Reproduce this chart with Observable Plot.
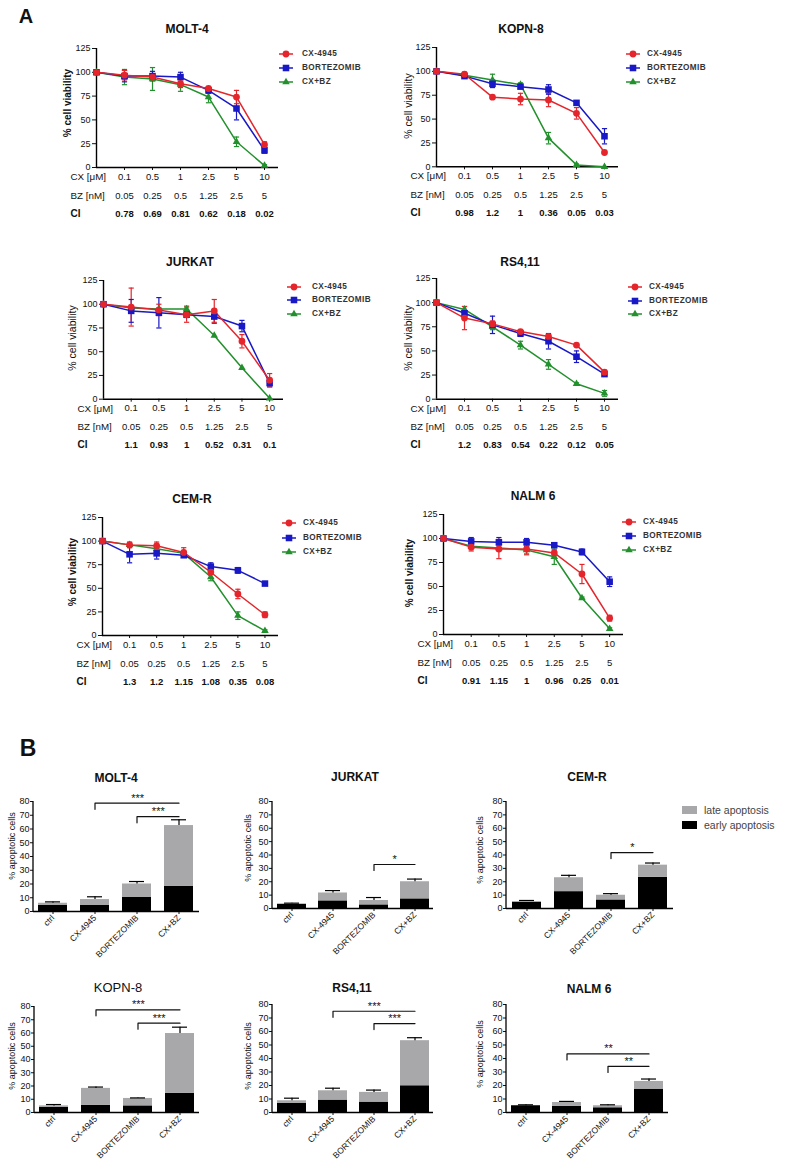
<!DOCTYPE html>
<html><head><meta charset="utf-8">
<script src="https://cdn.jsdelivr.net/npm/d3@7"></script>
<script src="https://cdn.jsdelivr.net/npm/@observablehq/plot@0.6"></script>
<style>
body{margin:0;background:#fff;font-family:"Liberation Sans",Arial,Helvetica,sans-serif;}
#fig{position:relative;width:790px;height:1162px;overflow:hidden;background:#fff;}
.t{position:absolute;transform:translate(-50%,-50%);white-space:nowrap;line-height:1;color:#111;}
.lg{position:absolute;white-space:nowrap;line-height:1;transform:translateY(-50%);}
</style></head><body><div id="fig"></div>
<script>
// ---------------- DATA ----------------
const concPositions = [0, 1, 2, 3, 4, 5, 6];           // control + six dose steps
const cxDoses = ["0.1", "0.5", "1", "2.5", "5", "10"];   // CX [μM]
const bzDoses = ["0.05", "0.25", "0.5", "1.25", "2.5", "5"]; // BZ [nM]
const treatments = ["CX-4945", "BORTEZOMIB", "CX+BZ"];
const viabilityTicks = [0, 25, 50, 75, 100, 125];

const MOLT4_CX = [100, 97, 95, 88, 83, 74, 24];
const MOLT4_CX_SD = [0, 5, 2, 4, 2, 7, 3];
const MOLT4_BZ = [100, 96, 96, 95, 81, 62, 18];
const MOLT4_BZ_SD = [0, 6, 5, 5, 3, 12, 3];
const MOLT4_CB = [100, 95, 93, 87, 74, 27, 2];
const MOLT4_CB_SD = [0, 8, 12, 7, 6, 5, 1];
const MOLT4_CI = ["0.78", "0.69", "0.81", "0.62", "0.18", "0.02"];

const KOPN8_CX = [100, 97, 73, 71, 70, 56, 15];
const KOPN8_CX_SD = [0, 2, 1, 6, 7, 6, 1];
const KOPN8_BZ = [100, 95, 87, 84, 81, 67, 32];
const KOPN8_BZ_SD = [0, 2, 4, 2, 5, 2, 8];
const KOPN8_CB = [100, 96, 91, 86, 30, 2, 0];
const KOPN8_CB_SD = [0, 1, 6, 2, 6, 1, 0];
const KOPN8_CI = ["0.98", "1.2", "1", "0.36", "0.05", "0.03"];

const JURKAT_CX = [100, 97, 94, 89, 93, 61, 20];
const JURKAT_CX_SD = [0, 20, 6, 8, 12, 7, 7];
const JURKAT_BZ = [100, 93, 91, 89, 87, 77, 17];
const JURKAT_BZ_SD = [0, 12, 16, 3, 7, 6, 4];
const JURKAT_CB = [100, 96, 95, 95, 67, 33, 1];
const JURKAT_CB_SD = [0, 0, 0, 3, 0, 0, 0];
const JURKAT_CI = ["1.1", "0.93", "1", "0.52", "0.31", "0.1"];

const RS411_CX = [100, 84, 78, 70, 65, 56, 28];
const RS411_CX_SD = [0, 12, 3, 2, 2, 1, 2];
const RS411_BZ = [100, 89, 77, 68, 60, 44, 26];
const RS411_BZ_SD = [0, 3, 9, 3, 8, 6, 2];
const RS411_CB = [100, 93, 75, 56, 36, 16, 6];
const RS411_CB_SD = [0, 3, 3, 4, 5, 1, 3];
const RS411_CI = ["1.2", "0.83", "0.54", "0.22", "0.12", "0.05"];

const CEMR_CX = [100, 96, 95, 88, 67, 44, 22];
const CEMR_CX_SD = [0, 3, 4, 5, 6, 5, 3];
const CEMR_BZ = [100, 86, 87, 85, 73, 69, 55];
const CEMR_BZ_SD = [0, 9, 6, 2, 4, 3, 1];
const CEMR_CB = [100, 96, 92, 87, 62, 21, 5];
const CEMR_CB_SD = [0, 2, 2, 2, 4, 4, 1];
const CEMR_CI = ["1.3", "1.2", "1.15", "1.08", "0.35", "0.08"];

const NALM6_CX = [100, 91, 89, 89, 85, 63, 17];
const NALM6_CX_SD = [0, 4, 10, 6, 3, 10, 3];
const NALM6_BZ = [100, 97, 96, 96, 93, 86, 55];
const NALM6_BZ_SD = [0, 4, 5, 4, 2, 3, 5];
const NALM6_CB = [100, 92, 90, 88, 81, 38, 6];
const NALM6_CB_SD = [0, 2, 3, 4, 8, 1, 1];
const NALM6_CI = ["0.91", "1.15", "1", "0.96", "0.25", "0.01"];

// Panel B: apoptosis
const groups = ["ctrl", "CX-4945", "BORTEZOMIB", "CX+BZ"];
const stages = ["early apoptosis", "late apoptosis"];
const apoptosisTicks = [0, 10, 20, 30, 40, 50, 60, 70, 80];

const B_MOLT4_EARLY = [4.6, 4.6, 10.2, 18.4];
const B_MOLT4_TOTAL = [6, 8.7, 20, 62.5];
const B_MOLT4_SD = [1, 2, 1.8, 4.2];
const B_MOLT4_SIG = [{from: "CX-4945", to: "CX+BZ", level: 78.8, label: "***"}, {from: "BORTEZOMIB", to: "CX+BZ", level: 69, label: "***"}];

const B_JURKAT_EARLY = [3, 5.7, 2.7, 7.2];
const B_JURKAT_TOTAL = [3.5, 11.6, 6, 20];
const B_JURKAT_SD = [0.5, 1.8, 2.2, 2];
const B_JURKAT_SIG = [{from: "BORTEZOMIB", to: "CX+BZ", level: 32.9, label: "*"}];

const B_CEMR_EARLY = [4.5, 12.6, 6.4, 23.3];
const B_CEMR_TOTAL = [5.2, 23, 9.9, 32.4];
const B_CEMR_SD = [0.8, 1.8, 1.2, 1.6];
const B_CEMR_SIG = [{from: "BORTEZOMIB", to: "CX+BZ", level: 41.8, label: "*"}];

const B_KOPN8_EARLY = [3.8, 5.5, 5, 14.4];
const B_KOPN8_TOTAL = [5, 18.2, 10.6, 59.6];
const B_KOPN8_SD = [1, 1, 0.4, 4.8];
const B_KOPN8_SIG = [{from: "CX-4945", to: "CX+BZ", level: 77.5, label: "***"}, {from: "BORTEZOMIB", to: "CX+BZ", level: 67.4, label: "***"}];

const B_RS411_EARLY = [6.7, 9.2, 7.7, 19.8];
const B_RS411_TOTAL = [8.7, 16.1, 14.9, 53.2];
const B_RS411_SD = [1.9, 1.9, 1.7, 2.2];
const B_RS411_SIG = [{from: "CX-4945", to: "CX+BZ", level: 75, label: "***"}, {from: "BORTEZOMIB", to: "CX+BZ", level: 65.9, label: "***"}];

const B_NALM6_EARLY = [5, 4.5, 3.5, 17.3];
const B_NALM6_TOTAL = [5, 7.4, 5, 23];
const B_NALM6_SD = [0.7, 0.8, 0.7, 1.8];
const B_NALM6_SIG = [{from: "CX-4945", to: "CX+BZ", level: 43.4, label: "**"}, {from: "BORTEZOMIB", to: "CX+BZ", level: 34.2, label: "**"}];

// ---------------- STYLE / LAYOUT ----------------
const FONT = "'Liberation Sans', Arial, Helvetica, sans-serif";
const SERIES_COLORS = ["#e4262c", "#1818c6", "#22902c"];
const SERIES_SYMBOLS = ["circle", "square", "triangle"];
const SERIES_R = {"CX-4945": 3.4, "BORTEZOMIB": 3.7, "CX+BZ": 2.8};
const STAGE_COLORS = ["#000000", "#a8a8aa"];

const fig = document.getElementById("fig");
function put(el, left, top) { el.style.position = "absolute"; el.style.left = left + "px"; el.style.top = top + "px"; fig.appendChild(el); }
function label(text, x, y, css) { const d = document.createElement("div"); d.className = "t"; d.textContent = text; d.style.left = x + "px"; d.style.top = y + "px"; Object.assign(d.style, css || {}); fig.appendChild(d); }
function vlabel(text, x, y, css) { label(text, x, y, Object.assign({transform: "translate(-50%,-50%) rotate(-90deg)"}, css || {})); }

const capSymbol = {draw(ctx, size) { const r = Math.sqrt(size / Math.PI); ctx.moveTo(-r, 0); ctx.lineTo(r, 0); }};

function linePanel(p) {
  const ML = 100, MT = 10, MR = 6, MB = 60;
  const left = p.axisX - ML, top = p.y125 - MT;
  const width = p.axisEnd + MR - left, height = p.y0 + MB - top;
  const rows = [];
  [["CX+BZ", p.cb, p.cbSd], ["BORTEZOMIB", p.bz, p.bzSd], ["CX-4945", p.cx, p.cxSd]].forEach(([t, m, s]) =>
    m.forEach((v, i) => rows.push({treatment: t, pos: concPositions[i], mean: v, sd: s[i]})));
  const errs = rows.filter(d => d.sd > 0);
  const table = cxDoses.map((c, i) => ({pos: concPositions[i + 1], cx: c, bz: bzDoses[i], ci: p.ci[i]}));
  const dotMarks = ["CX+BZ", "BORTEZOMIB", "CX-4945"].map(t =>
    Plot.dot(rows.filter(d => d.treatment === t), {x: "pos", y: "mean", symbol: "treatment", fill: "treatment", r: SERIES_R[t]}));
  const svg = Plot.plot({
    width, height, marginLeft: ML, marginTop: MT, marginRight: MR, marginBottom: MB,
    style: {fontFamily: FONT, fontSize: "9px", color: "#111", background: "transparent", overflow: "visible"},
    x: {domain: [0, 6.5], axis: null},
    y: {domain: [0, 125], axis: null},
    color: {domain: treatments, range: SERIES_COLORS},
    symbol: {domain: treatments, range: SERIES_SYMBOLS},
    marks: [
      Plot.axisY({ticks: viabilityTicks, tickSize: 4, tickPadding: 2, fontSize: 9, label: null}),
      Plot.axisX({ticks: concPositions.slice(1), tickSize: 3, tickFormat: () => "", label: null}),
      Plot.ruleX([0], {stroke: "#000", strokeWidth: 1.4}),
      Plot.ruleY([0], {stroke: "#000", strokeWidth: 1.4}),
      Plot.ruleX(errs, {x: "pos", y1: d => d.mean - d.sd, y2: d => d.mean + d.sd, stroke: "treatment", strokeWidth: 1.2}),
      Plot.dot(errs, {x: "pos", y: d => d.mean + d.sd, symbol: capSymbol, r: 2.6, stroke: "treatment", strokeWidth: 1.2, fill: "none"}),
      Plot.dot(errs, {x: "pos", y: d => d.mean - d.sd, symbol: capSymbol, r: 2.6, stroke: "treatment", strokeWidth: 1.2, fill: "none"}),
      Plot.line(rows, {x: "pos", y: "mean", z: "treatment", stroke: "treatment", strokeWidth: 1.5}),
      ...dotMarks,
      Plot.text(table, {x: "pos", text: "cx", frameAnchor: "bottom", dy: 12, fontSize: 9.5}),
      Plot.text(table, {x: "pos", text: "bz", frameAnchor: "bottom", dy: 31, fontSize: 9.5}),
      Plot.text(table, {x: "pos", text: "ci", frameAnchor: "bottom", dy: 49, fontSize: 9.5, fontWeight: "bold"}),
      Plot.text(["CX [μM]"], {text: d => d, frameAnchor: "bottom-left", dx: -26, dy: 12.5, textAnchor: "start", fontSize: 9.8}),
      Plot.text(["BZ [nM]"], {text: d => d, frameAnchor: "bottom-left", dx: -26, dy: 31, textAnchor: "start", fontSize: 9.8}),
      Plot.text(["CI"], {text: d => d, frameAnchor: "bottom-left", dx: -26, dy: 49, textAnchor: "start", fontSize: 10, fontWeight: "bold"})
    ]
  });
  put(svg, left, top);
  label(p.name, p.titleX, p.titleY, {fontWeight: "bold", fontSize: "12px"});
  vlabel("% cell viability", p.yLabX, p.yLabY, {fontSize: p.yBold ? "10px" : "10.5px", fontWeight: p.yBold ? "bold" : "normal"});
  // legend
  treatments.forEach((t, i) => {
    const c = SERIES_COLORS[i];
    const sym = {circle: d3.symbolCircle, square: d3.symbolSquare, triangle: d3.symbolTriangle}[SERIES_SYMBOLS[i]];
    const r = SERIES_R[t];
    const path = d3.symbol(sym, Math.PI * r * r)();
    const s = document.createElementNS("http://www.w3.org/2000/svg", "svg");
    s.setAttribute("width", 18); s.setAttribute("height", 12);
    s.innerHTML = `<line x1="2" x2="16" y1="6" y2="6" stroke="${c}" stroke-width="1.5"/><path transform="translate(9,6)" d="${path}" fill="${c}"/>`;
    put(s, p.legMarkX - 9, p.legY[i] - 6);
    const d = document.createElement("div");
    d.className = "lg"; d.textContent = t;
    Object.assign(d.style, {left: p.legTextX + "px", top: p.legY[i] + "px", fontSize: "8.2px", fontWeight: "bold", letterSpacing: "0.4px", color: "#333"});
    fig.appendChild(d);
  });
}

function barPanel(p) {
  const ML = 40, MT = 14, MR = 6, MB = 58;
  const left = p.axisX - ML, top = p.y80 - MT;
  const width = p.axisEnd + MR - left, height = p.y0 + MB - top;
  const rows = [];
  groups.forEach((g, i) => {
    rows.push({group: g, stage: stages[0], value: p.early[i]});
    rows.push({group: g, stage: stages[1], value: p.total[i] - p.early[i]});
  });
  const errs = groups.map((g, i) => ({group: g, top: p.total[i], hi: p.total[i] + p.sd[i]}));
  const frameW = width - ML - MR;
  const step = frameW / (groups.length - 0.3 + 0.2);
  const drop = 4.5;
  const bracketPts = p.sig.flatMap((b, k) => [
    {id: k, group: b.from, y: b.level - drop}, {id: k, group: b.from, y: b.level}, {id: k, group: b.to, y: b.level}]);
  const yAxisLine = (index, scales, values, dims) =>
    d3.create("svg:line").attr("x1", dims.marginLeft).attr("x2", dims.marginLeft)
      .attr("y1", dims.marginTop).attr("y2", dims.height - dims.marginBottom)
      .attr("stroke", "#000").attr("stroke-width", 1.3).node();
  const svg = Plot.plot({
    width, height, marginLeft: ML, marginTop: MT, marginRight: MR, marginBottom: MB,
    style: {fontFamily: FONT, fontSize: "9px", color: "#111", background: "transparent", overflow: "visible"},
    x: {type: "band", domain: groups, paddingInner: 0.3, paddingOuter: 0.1, axis: null},
    y: {domain: [0, 80], axis: null},
    color: {domain: stages, range: STAGE_COLORS},
    marks: [
      Plot.barY(rows, {x: "group", y: "value", fill: "stage"}),
      Plot.ruleX(errs, {x: "group", y1: "top", y2: "hi", stroke: "#000", strokeWidth: 1.2}),
      Plot.tickY(errs, {x: "group", y: "hi", stroke: "#000", strokeWidth: 1.2, insetLeft: 7, insetRight: 7}),
      Plot.axisY({ticks: apoptosisTicks, tickSize: 3, tickPadding: 1, fontSize: 9, label: null}),
      Plot.axisX({tickRotate: -45, tickSize: 3, tickPadding: 2, fontSize: 8.5, label: null}),
      Plot.ruleY([0], {stroke: "#000", strokeWidth: 1.3}),
      yAxisLine,
      Plot.line(bracketPts, {x: "group", y: "y", z: "id", stroke: "#111", strokeWidth: 1.2}),
      ...p.sig.map(b => Plot.text([b], {x: "from", y: "level", text: "label", fontSize: 11, dy: -5,
        dx: (groups.indexOf(b.to) - groups.indexOf(b.from)) * step / 2}))
    ]
  });
  put(svg, left, top);
  label(p.name, p.titleX, p.titleY, {fontWeight: p.titleBold === false ? "normal" : "bold", fontSize: p.titleBold === false ? "13px" : "12px"});
  vlabel("% apoptotic cells", p.yLabX, p.yLabY, {fontSize: "9px"});
}

// ---------------- BUILD ----------------
label("A", 26, 16, {fontWeight: "bold", fontSize: "20px"});
label("B", 28, 748, {fontWeight: "bold", fontSize: "23px"});

linePanel({name: "MOLT-4", titleX: 187, titleY: 29, cx: MOLT4_CX, cxSd: MOLT4_CX_SD, bz: MOLT4_BZ, bzSd: MOLT4_BZ_SD, cb: MOLT4_CB, cbSd: MOLT4_CB_SD, ci: MOLT4_CI,
  axisX: 96, axisEnd: 278, y125: 47.7, y0: 166.7, legMarkX: 286, legTextX: 302, legY: [54, 68, 82], yBold: true, yLabX: 68, yLabY: 103});
linePanel({name: "KOPN-8", titleX: 521, titleY: 29, cx: KOPN8_CX, cxSd: KOPN8_CX_SD, bz: KOPN8_BZ, bzSd: KOPN8_BZ_SD, cb: KOPN8_CB, cbSd: KOPN8_CB_SD, ci: KOPN8_CI,
  axisX: 436, axisEnd: 618, y125: 46.7, y0: 166, legMarkX: 633, legTextX: 647, legY: [54, 68, 82], yBold: false, yLabX: 407.5, yLabY: 105.5});
linePanel({name: "JURKAT", titleX: 190, titleY: 262, cx: JURKAT_CX, cxSd: JURKAT_CX_SD, bz: JURKAT_BZ, bzSd: JURKAT_BZ_SD, cb: JURKAT_CB, cbSd: JURKAT_CB_SD, ci: JURKAT_CI,
  axisX: 103, axisEnd: 283, y125: 279.6, y0: 398.3, legMarkX: 294, legTextX: 312, legY: [287, 300, 314], yBold: false, yLabX: 72, yLabY: 338});
linePanel({name: "RS4,11", titleX: 520, titleY: 262, cx: RS411_CX, cxSd: RS411_CX_SD, bz: RS411_BZ, bzSd: RS411_BZ_SD, cb: RS411_CB, cbSd: RS411_CB_SD, ci: RS411_CI,
  axisX: 436, axisEnd: 618, y125: 278, y0: 398.7, legMarkX: 635, legTextX: 649, legY: [287, 301, 314], yBold: false, yLabX: 408, yLabY: 338});
linePanel({name: "CEM-R", titleX: 192, titleY: 499, cx: CEMR_CX, cxSd: CEMR_CX_SD, bz: CEMR_BZ, bzSd: CEMR_BZ_SD, cb: CEMR_CB, cbSd: CEMR_CB_SD, ci: CEMR_CI,
  axisX: 102, axisEnd: 278, y125: 517, y0: 635, legMarkX: 289, legTextX: 303, legY: [523, 538, 552], yBold: true, yLabX: 73, yLabY: 572});
linePanel({name: "NALM 6", titleX: 533, titleY: 496, cx: NALM6_CX, cxSd: NALM6_CX_SD, bz: NALM6_BZ, bzSd: NALM6_BZ_SD, cb: NALM6_CB, cbSd: NALM6_CB_SD, ci: NALM6_CI,
  axisX: 443, axisEnd: 623, y125: 514, y0: 634, legMarkX: 629, legTextX: 643, legY: [522, 536, 550], yBold: true, yLabX: 410, yLabY: 573});

barPanel({name: "MOLT-4", titleX: 116, titleY: 778, early: B_MOLT4_EARLY, total: B_MOLT4_TOTAL, sd: B_MOLT4_SD, sig: B_MOLT4_SIG, axisX: 33, axisEnd: 199, y80: 801, y0: 911, yLabX: 12, yLabY: 846});
barPanel({name: "JURKAT", titleX: 355, titleY: 777, early: B_JURKAT_EARLY, total: B_JURKAT_TOTAL, sd: B_JURKAT_SD, sig: B_JURKAT_SIG, axisX: 272, axisEnd: 433, y80: 801, y0: 908, yLabX: 248, yLabY: 848});
barPanel({name: "CEM-R", titleX: 587, titleY: 777, early: B_CEMR_EARLY, total: B_CEMR_TOTAL, sd: B_CEMR_SD, sig: B_CEMR_SIG, axisX: 506, axisEnd: 673, y80: 801, y0: 908, yLabX: 480, yLabY: 850});
barPanel({name: "KOPN-8", titleX: 118, titleY: 987, early: B_KOPN8_EARLY, total: B_KOPN8_TOTAL, sd: B_KOPN8_SD, sig: B_KOPN8_SIG, axisX: 34, axisEnd: 199, y80: 1006, y0: 1112, titleBold: false, yLabX: 12, yLabY: 1056});
barPanel({name: "RS4,11", titleX: 352, titleY: 988, early: B_RS411_EARLY, total: B_RS411_TOTAL, sd: B_RS411_SD, sig: B_RS411_SIG, axisX: 272, axisEnd: 433, y80: 1004, y0: 1112, yLabX: 248, yLabY: 1056});
barPanel({name: "NALM 6", titleX: 589, titleY: 989, early: B_NALM6_EARLY, total: B_NALM6_TOTAL, sd: B_NALM6_SD, sig: B_NALM6_SIG, axisX: 506, axisEnd: 668, y80: 1004, y0: 1112, yLabX: 480, yLabY: 1054});

// Panel B legend
stages.slice().reverse().forEach((s, i) => {
  const sw = document.createElement("div");
  Object.assign(sw.style, {width: "15px", height: "8px", background: STAGE_COLORS[stages.indexOf(s)]});
  put(sw, 682, 806 + i * 15);
  const d = document.createElement("div");
  d.className = "lg"; d.textContent = s;
  Object.assign(d.style, {left: "704px", top: (810 + i * 15) + "px", fontSize: "10.5px", color: "#444"});
  fig.appendChild(d);
});
</script></body></html>
